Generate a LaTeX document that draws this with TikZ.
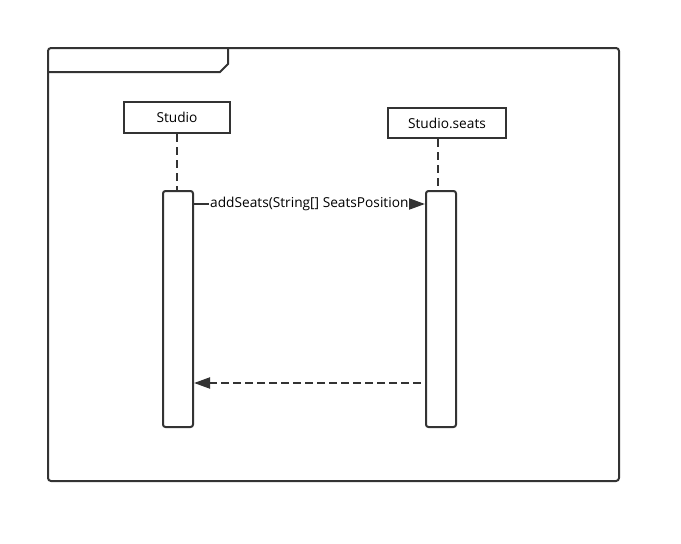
\documentclass[tikz,border=0pt]{standalone}
\usepackage{fontspec}
\setmainfont{Open Sans}
\usetikzlibrary{arrows.meta}
\definecolor{ink}{HTML}{333333}
\tikzset{
  x=1pt, y=-1pt,
  framestyle/.style={draw=ink, line width=2pt},
  objbox/.style={draw=ink, line width=2pt, fill=white, font=\fontsize{13.7}{16}\selectfont, text=black, inner sep=0pt},
  actbox/.style={draw=ink, line width=2pt, rounded corners=2.5pt, fill=white},
  lifeline/.style={draw=ink, line width=2pt, dash pattern=on 8pt off 5pt},
  msg/.style={draw=ink, line width=2pt, -{Triangle[length=16pt,width=11pt]}},
  reply/.style={draw=ink, line width=2pt, dash pattern=on 8pt off 4pt, -{Triangle[length=16pt,width=11pt]}},
  lbl/.style={fill=white, inner sep=1pt, font=\fontsize{13.7}{16}\selectfont, text=black}
}
\begin{document}
\begin{tikzpicture}
\useasboundingbox (0,0) rectangle (681,544);
% frame
\draw[framestyle, rounded corners=3pt] (48,48) rectangle (619,481);
\draw[framestyle] (48,72) -- (220,72) -- (228,64) -- (228,48);
% objects
\node[objbox, minimum width=106pt, minimum height=31pt] (s) at (177,117.5) {Studio};
\node[objbox, minimum width=118pt, minimum height=30pt] (ss) at (447,123) {Studio.seats};
% activations
\node[actbox, minimum width=30pt, minimum height=236pt] (a1) at (178,309) {};
\node[actbox, minimum width=30pt, minimum height=236pt] (a2) at (441,309) {};
% lifelines
\draw[lifeline] (s.south) -- (a1.north -| s.south);
\draw[lifeline] (ss.south -| 438,0) -- (a2.north -| 438,0);
% messages
\coordinate (m1s) at (a1.east |- 0,204);
\coordinate (m1e) at (a2.west |- 0,204);
\draw[msg] (m1s) -- (m1e);
\node[lbl, anchor=west] (l1) at (209,204) {addSeats(String[] SeatsPosition};
\coordinate (m2s) at (421,383);
\coordinate (m2e) at (a1.east |- 0,383);
\draw[reply] (m2s) -- (m2e);
\end{tikzpicture}
\end{document}
